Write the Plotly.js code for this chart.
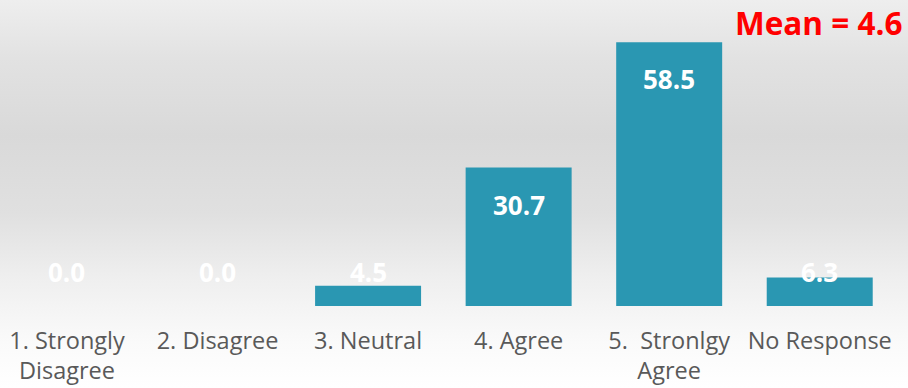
<!DOCTYPE html>
<html>
<head>
<meta charset="utf-8">
<script src="https://cdn.plot.ly/plotly-3.0.1.min.js"></script>
<style>
  html, body { margin: 0; padding: 0; }
  #chart {
    width: 908px; height: 388px;
    background: linear-gradient(to bottom, #eeeeee 0%, #e2e2e2 15%, #d9d9d9 35%, #e0e0e0 55%, #efefef 72%, #fafafa 88%, #ffffff 100%);
  }
</style>
</head>
<body>
<div id="chart"></div>
<script>
const categories = ["1. Strongly<br>Disagree", "2. Disagree", "3. Neutral", "4. Agree", "5.  Stronlgy<br>Agree", "No Response"];
const values = [0.0, 0.0, 4.5, 30.7, 58.5, 6.3];
const valueLabels = ["0.0", "0.0", "4.5", "30.7", "58.5", "6.3"];
const meanLabel = "Mean = 4.6";

const FONT = "'Open Sans', 'Noto Sans', sans-serif";

const trace = {
  type: 'bar',
  x: categories,
  y: values,
  marker: { color: '#2a97b2' },
  hoverinfo: 'skip'
};

const annotations = values.map((v, i) => {
  const inside = v > 15;
  return {
    x: categories[i], y: inside ? v : 0,
    xref: 'x', yref: 'y',
    text: '<b>' + valueLabels[i] + '</b>',
    showarrow: false,
    yanchor: 'middle',
    yshift: inside ? -37 : 34,
    font: { family: FONT, size: 26, color: '#ffffff' }
  };
});
annotations.push({
  xref: 'paper', yref: 'paper', x: 1, y: 1,
  xanchor: 'right', yanchor: 'middle', xshift: 9, yshift: -9,
  text: '<b>' + meanLabel + '</b>', showarrow: false,
  font: { family: FONT, size: 31.5, color: '#ff0000' }
});

const layout = {
  width: 908, height: 388,
  margin: { l: 0, r: 13, t: 13, b: 82 },
  paper_bgcolor: 'rgba(0,0,0,0)',
  plot_bgcolor: 'rgba(0,0,0,0)',
  bargap: 0.296,
  showlegend: false,
  xaxis: {
    type: 'category',
    range: [-0.445, 5.5],
    showgrid: false, zeroline: false, showline: false, ticks: '',
    tickfont: { family: FONT, size: 23.5, color: '#595959' },
    ticklabelstandoff: 18
  },
  yaxis: { visible: false, range: [0, 65] },
  annotations: annotations
};

Plotly.newPlot('chart', [trace], layout, { displayModeBar: false, staticPlot: true });
</script>
</body>
</html>
